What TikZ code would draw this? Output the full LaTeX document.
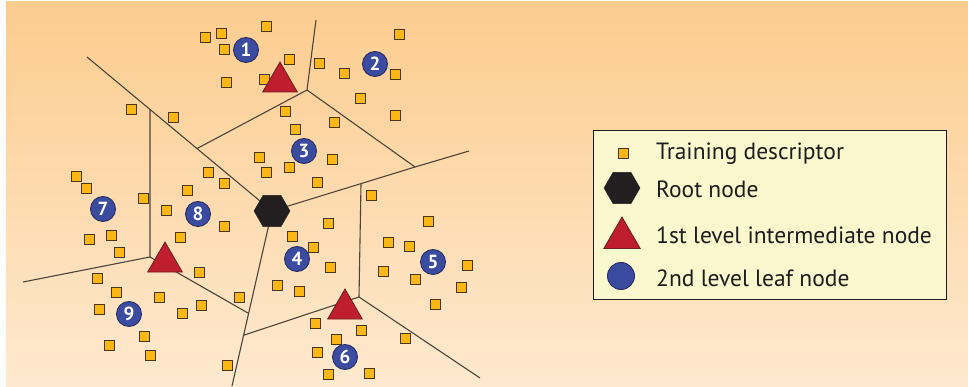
\documentclass[tikz,border=0pt]{standalone}
\usepackage{fontspec}
\setmainfont{PT Sans}
\usetikzlibrary{shapes.geometric,calc}
\pgfdeclarelayer{paper}
\pgfdeclarelayer{edges}
\pgfsetlayers{paper,edges,main}

\definecolor{bgtop}{RGB}{252,204,142}
\definecolor{bgbot}{RGB}{254,233,207}
\definecolor{desccol}{RGB}{253,183,20}
\definecolor{descline}{RGB}{70,55,30}
\definecolor{intercol}{RGB}{190,30,45}
\definecolor{interline}{RGB}{110,30,30}
\definecolor{rootcol}{RGB}{35,31,32}
\definecolor{leafcol}{RGB}{58,75,160}
\definecolor{leafline}{RGB}{40,45,100}
\definecolor{edgecol}{RGB}{75,68,60}
\definecolor{legendfill}{RGB}{251,247,206}
\definecolor{inkcol}{RGB}{30,28,30}

\tikzset{
  descsq/.style={rectangle, draw=descline, fill=desccol, line width=0.9pt,
    minimum size=10pt, inner sep=0pt, outer sep=0pt},
  intertri/.style={regular polygon, regular polygon sides=3, draw=interline,
    fill=intercol, line width=0.8pt, minimum size=40pt, inner sep=0pt, outer sep=0pt},
  roothex/.style={regular polygon, regular polygon sides=6, draw=rootcol,
    fill=rootcol, minimum size=36pt, inner sep=0pt, outer sep=0pt},
  leafdot/.style={circle, draw=leafline, fill=leafcol, line width=0.9pt,
    minimum size=25pt, inner sep=0pt, text=white, font=\fontsize{19}{19}\selectfont\bfseries},
  cell/.style={draw=edgecol, line width=1.1pt},
  legtext/.style={anchor=base west, inner sep=0pt, text=inkcol,
    font=\fontsize{23.5}{23.5}\selectfont},
}

\begin{document}
\begin{tikzpicture}[x=1pt, y=-1pt]
  % page and shaded paper
  \begin{pgfonlayer}{paper}
    \fill[white] (0,0) rectangle (968,387);
    \fill[top color=bgtop, bottom color=bgbot] (6,2) rectangle (968,386);
  \end{pgfonlayer}
  \useasboundingbox (0,0) rectangle (968,387);

  % root of the vocabulary tree
  \node[roothex] (root) at (272,211) {};

  % cell corners and free ends of the partition
  \coordinate (A) at (87,57);
  \coordinate (E) at (316,20);
  \coordinate (D) at (307,90);
  \coordinate (F) at (415,167);
  \coordinate (G) at (469,151);
  \coordinate (K) at (23,282);
  \coordinate (J) at (150,257);
  \coordinate (M) at (232,386);
  \coordinate (O) at (359,297);
  \coordinate (P) at (480,378);
  \coordinate (B) at ($(A)!0.3405!(root.center)$);
  \coordinate (C) at ($(A)!0.5946!(root.center)$);
  \coordinate (I) at ($(F)!0.3776!(root.center)$);
  \coordinate (L) at ($(root.center)!0.585!(M)$);
  \coordinate (N) at ($(root.center)!0.710!(M)$);

  \begin{pgfonlayer}{edges}
    \draw[cell] (A) -- (root);
    \draw[cell] (root) -- (M);
    \draw[cell] (F) -- (root);
    \draw[cell] (B) -- (J);
    \draw[cell] (K) -- (J) -- (L);
    \draw[cell] (C) -- (D) -- (E);
    \draw[cell] (D) -- (F) -- (G);
    \draw[cell] (I) -- (O);
    \draw[cell] (N) -- (O) -- (P);
  \end{pgfonlayer}

  % training descriptors
  \foreach \px/\py [count=\k] in {
    205/37, 221/33, 266/26, 224/49, 289/59, 226/82, 264/79, 319/63, 344/73,
    399/34, 395/74, 360/98, 395/115,
    131/109, 173/117, 285/111, 295/129, 334/122,
    259/157, 266/172, 289/167, 332/159, 317/182,
    208/172, 224/183, 187/190, 76/176, 86/188, 143/198, 371/195,
    166/210, 224/226, 180/237, 89/239, 111/235, 119/252,
    199/272, 97/278, 116/292, 159/297, 99/309, 182/313, 201/305, 239/297,
    144/336, 109/345, 150/355, 227/365,
    328/223, 292/236, 313/247, 330/267, 277/285, 299/291,
    428/221, 388/242, 409/246, 383/271, 415/279, 467/265, 461/287, 435/304,
    315/323, 361/330, 405/338, 336/339, 317/352, 328/374, 369/373}
    \node[descsq] (d\k) at (\px,\py) {};

  % first level intermediate nodes
  \node[intertri] (t1) at (280,82) {};
  \node[intertri] (t2) at (345,309) {};
  \node[intertri] (t3) at (165,262) {};

  % second level leaf nodes
  \node[leafdot] (l1) at (246,50) {1};
  \node[leafdot] (l2) at (375,64) {2};
  \node[leafdot] (l3) at (304,151) {3};
  \node[leafdot] (l4) at (297,259) {4};
  \node[leafdot] (l5) at (433,262) {5};
  \node[leafdot] (l6) at (345,357) {6};
  \node[leafdot] (l7) at (103,209) {7};
  \node[leafdot] (l8) at (198,214) {8};
  \node[leafdot] (l9) at (129,314) {9};

  % legend
  \node[draw=inkcol, fill=legendfill, line width=0.9pt, inner sep=0pt, outer sep=0pt,
        minimum width=353pt, minimum height=169pt] (legend) at (769.5,214.5) {};
  \node[descsq] (kdesc) at (623,153) {};
  \node[roothex] (kroot) at (622,188) {};
  \node[intertri, minimum size=42pt] (kinter) at (622,238) {};
  \node[leafdot, minimum size=27pt] (kleaf) at (621,276) {};
  \node[legtext] (tdesc) at (656,159.3) {Training descriptor};
  \node[legtext] (troot) at (656,197.7) {Root node};
  \node[legtext] (tinter) at (656,243.3) {1st level intermediate node};
  \node[legtext] (tleaf) at (656,286.7) {2nd level leaf node};
\end{tikzpicture}
\end{document}
